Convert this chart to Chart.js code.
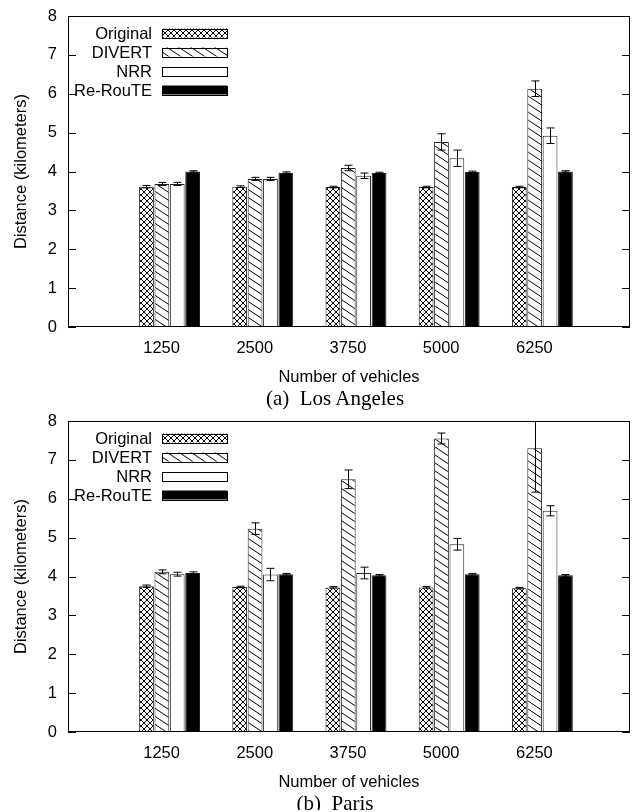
<!DOCTYPE html>
<html>
<head>
<meta charset="utf-8">
<title>Distance by number of vehicles</title>
<script src="https://cdn.jsdelivr.net/npm/chart.js@4.4.0/dist/chart.umd.min.js"></script>
<style>
    body { margin: 0; background: #fff; }
    .panel { position: relative; width: 638px; height: 405px; }
    .panel canvas { position: absolute; left: 0; top: 0; }
    .caption {
        position: absolute; left: 32px; width: 606px; top: 386px;
        text-align: center; font-family: "Liberation Serif", serif; font-size: 21px;
        line-height: 24px; color: #000; white-space: pre;
    }
</style>
</head>
<body>
<div class="panel">
    <canvas id="chartLA" width="638" height="405"></canvas>
    <div class="caption">(a)  Los Angeles</div>
</div>
<div class="panel">
    <canvas id="chartParis" width="638" height="405"></canvas>
    <div class="caption">(b)  Paris</div>
</div>
<script>
// numero de vehiculos (eje x)
var vehicles = [1250, 2500, 3750, 5000, 6250];
var seriesNames = ["Original", "DIVERT", "NRR", "Re-RouTE"];

// Los Angeles: distancia media (km) y su desviacion
var laOriginal = [3.61, 3.61, 3.60, 3.60, 3.60];
var laDivert = [3.68, 3.81, 4.09, 4.76, 6.13];
var laNrr = [3.68, 3.81, 3.89, 4.34, 4.92];
var laReroute = [4.00, 3.97, 3.96, 3.99, 4.00];
var laOriginalErr = [0.03, 0.02, 0.02, 0.02, 0.02];
var laDivertErr = [0.04, 0.04, 0.07, 0.21, 0.20];
var laNrrErr = [0.04, 0.04, 0.07, 0.21, 0.20];
var laRerouteErr = [0.02, 0.02, 0.02, 0.02, 0.02];

// Paris
var parisOriginal = [3.75, 3.73, 3.72, 3.72, 3.70];
var parisDivert = [4.12, 5.23, 6.50, 7.55, 7.30];
var parisNrr = [4.06, 4.05, 4.09, 4.83, 5.69];
var parisReroute = [4.09, 4.06, 4.03, 4.06, 4.03];
var parisOriginalErr = [0.03, 0.02, 0.02, 0.02, 0.02];
var parisDivertErr = [0.05, 0.15, 0.24, 0.14, 1.13];
var parisNrrErr = [0.05, 0.16, 0.15, 0.15, 0.13];
var parisRerouteErr = [0.03, 0.02, 0.02, 0.02, 0.02];

var FONT = "'Liberation Sans', Arial, sans-serif";

// tramas tipo gnuplot
function makePattern(w, h, draw) {
    var tile = document.createElement("canvas");
    tile.width = w;
    tile.height = h;
    var t = tile.getContext("2d");
    t.fillStyle = "#fff";
    t.fillRect(0, 0, w, h);
    t.strokeStyle = "#000";
    t.lineWidth = 1;
    draw(t, w, h);
    return document.createElement("canvas").getContext("2d").createPattern(tile, "repeat");
}

var crossHatch = makePattern(6, 6, function (t, w, h) {
    t.beginPath();
    t.moveTo(0, 0); t.lineTo(w, h);
    t.moveTo(0, h); t.lineTo(w, 0);
    t.stroke();
});

var diagHatch = makePattern(12, 8, function (t, w, h) {
    t.beginPath();
    t.moveTo(-w, -h); t.lineTo(2 * w, 2 * h);
    t.moveTo(0, -h); t.lineTo(2 * w, h);
    t.moveTo(-w, 0); t.lineTo(w, 2 * h);
    t.stroke();
});

var fills = [crossHatch, diagHatch, "#fff", "#000"];

// marco, marcas interiores del eje y, barras de error y leyenda
var gnuplotLook = {
    id: "gnuplotLook",
    afterDatasetsDraw: function (chart) {
        var ctx = chart.ctx;
        var a = chart.chartArea;
        var y = chart.scales.y;
        ctx.save();
        ctx.beginPath();
        ctx.rect(a.left, a.top, a.right - a.left, a.bottom - a.top);
        ctx.clip();
        ctx.strokeStyle = "#000";
        ctx.lineWidth = 1;
        chart.data.datasets.forEach(function (ds, di) {
            var meta = chart.getDatasetMeta(di);
            meta.data.forEach(function (bar, i) {
                var v = ds.data[i];
                var e = ds.errors[i];
                var x = Math.round(bar.x) + 0.5;
                var y1 = y.getPixelForValue(v - e);
                var y2 = y.getPixelForValue(v + e);
                ctx.beginPath();
                ctx.moveTo(x, y1); ctx.lineTo(x, y2);
                ctx.moveTo(x - 4, y1); ctx.lineTo(x + 4, y1);
                ctx.moveTo(x - 4, y2); ctx.lineTo(x + 4, y2);
                ctx.stroke();
            });
        });
        ctx.restore();
    },
    afterDraw: function (chart) {
        var ctx = chart.ctx;
        var a = chart.chartArea;
        var y = chart.scales.y;
        ctx.save();
        ctx.strokeStyle = "#000";
        ctx.lineWidth = 1;
        ctx.strokeRect(a.left + 0.5, a.top + 0.5, a.right - a.left - 1, a.bottom - a.top - 1);
        ctx.beginPath();
        y.ticks.forEach(function (t) {
            var py = Math.round(y.getPixelForValue(t.value)) + 0.5;
            ctx.moveTo(a.left, py); ctx.lineTo(a.left + 8, py);
            ctx.moveTo(a.right - 8, py); ctx.lineTo(a.right, py);
        });
        ctx.stroke();

        // leyenda dentro del grafico
        ctx.font = "16.5px " + FONT;
        ctx.textAlign = "right";
        ctx.textBaseline = "middle";
        chart.data.datasets.forEach(function (ds, i) {
            var cy = a.top + 17 + i * 19;
            ctx.fillStyle = "#000";
            ctx.fillText(ds.label, a.left + 84, cy + 1);
            ctx.fillStyle = ds.backgroundColor;
            ctx.fillRect(a.left + 94, cy - 4.5, 65, 9);
            ctx.strokeRect(a.left + 94.5, Math.round(cy - 4.5) + 0.5, 65, 9);
        });
        ctx.restore();
    }
};

function makeChart(id, values, errors) {
    var datasets = seriesNames.map(function (name, i) {
        return {
            label: name,
            data: values[i],
            errors: errors[i],
            backgroundColor: fills[i],
            borderColor: "#222",
            borderWidth: 1,
            categoryPercentage: 0.66,
            barPercentage: 0.96
        };
    });

    return new Chart(document.getElementById(id), {
        type: "bar",
        data: { labels: vehicles, datasets: datasets },
        plugins: [gnuplotLook],
        options: {
            responsive: false,
            animation: false,
            layout: { padding: { top: 16, right: 8, bottom: 18, left: 0 } },
            plugins: { legend: { display: false }, tooltip: { enabled: false } },
            scales: {
                x: {
                    type: "linear",
                    offset: false,
                    min: -112,
                    max: 7425,
                    afterBuildTicks: function (scale) {
                        scale.ticks = vehicles.map(function (v) { return { value: v }; });
                    },
                    afterFit: function (scale) {
                        scale.height = 60;
                        scale.paddingLeft = 0;
                        scale.paddingRight = 0;
                    },
                    grid: { display: false, drawTicks: false, offset: false },
                    border: { display: false },
                    ticks: {
                        autoSkip: false,
                        maxRotation: 0,
                        labelOffset: -8,
                        padding: 12,
                        color: "#000",
                        font: { family: FONT, size: 16.5 },
                        callback: function (v) { return String(v); }
                    },
                    title: {
                        display: true,
                        text: "Number of vehicles",
                        color: "#000",
                        padding: 0,
                        font: { family: FONT, size: 16.5 }
                    }
                },
                y: {
                    min: 0,
                    max: 8,
                    afterFit: function (scale) {
                        scale.width = 68;
                        scale.paddingTop = 0;
                        scale.paddingBottom = 0;
                    },
                    grid: { display: false, drawTicks: false },
                    border: { display: false },
                    ticks: {
                        stepSize: 1,
                        padding: 11,
                        color: "#000",
                        font: { family: FONT, size: 16.5 }
                    },
                    title: {
                        display: true,
                        text: "Distance (kilometers)",
                        color: "#000",
                        padding: 12,
                        font: { family: FONT, size: 16.5 }
                    }
                }
            }
        }
    });
}

makeChart("chartLA",
    [laOriginal, laDivert, laNrr, laReroute],
    [laOriginalErr, laDivertErr, laNrrErr, laRerouteErr]);

makeChart("chartParis",
    [parisOriginal, parisDivert, parisNrr, parisReroute],
    [parisOriginalErr, parisDivertErr, parisNrrErr, parisRerouteErr]);
</script>
</body>
</html>
